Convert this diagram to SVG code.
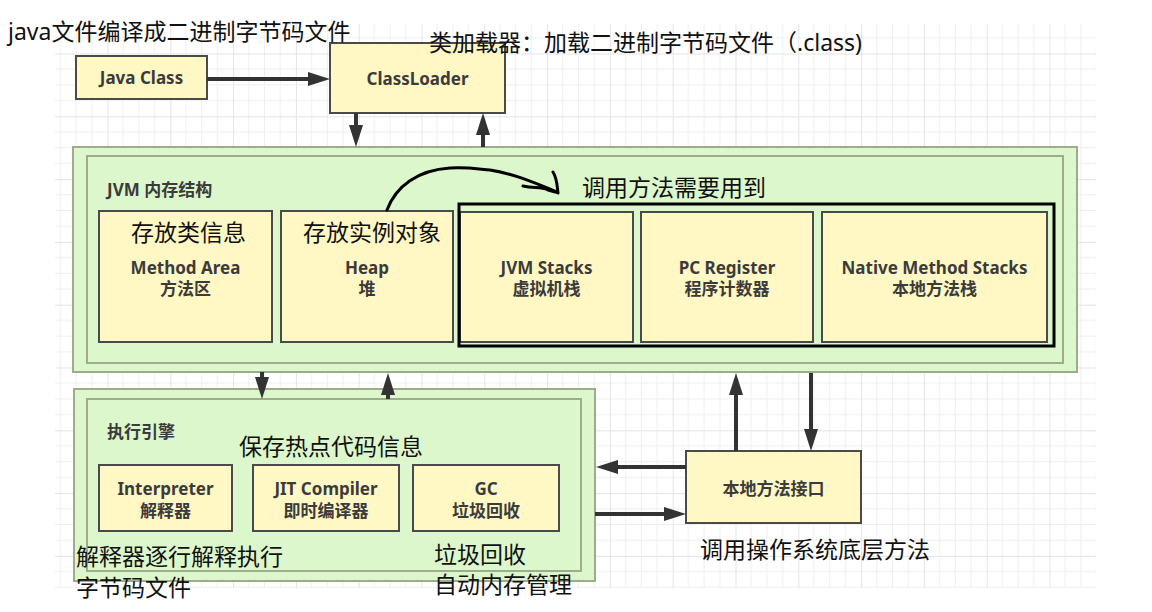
<svg xmlns="http://www.w3.org/2000/svg" width="1152" height="612" viewBox="0 0 1152 612">
  <defs>
    <pattern id="grid" patternUnits="userSpaceOnUse" x="44.7" y="53.5" width="62.8" height="62.8">
      <path d="M15.7,0V62.8M31.4,0V62.8M47.1,0V62.8M0,15.7H62.8M0,31.4H62.8M0,47.1H62.8" stroke="#efefef" stroke-width="1" fill="none"/>
      <path d="M0.5,0V62.8M0,0.5H62.8" stroke="#e4e4e4" stroke-width="1" fill="none"/>
    </pattern>
    <marker id="ah" markerUnits="userSpaceOnUse" markerWidth="22" markerHeight="14" viewBox="0 0 22 14" refX="6" refY="7" orient="auto">
      <path d="M0,0 L22,7 L0,14 z" fill="#333"/>
    </marker>
    <style>
      .box { fill: #fff7c4; stroke: #4a4a4a; stroke-width: 2; }
      .grn { fill: #dcf7cc; stroke: #9eac8e; stroke-width: 2; }
      .lbl { font-family: "Noto Sans", "Noto Sans CJK SC", sans-serif; font-weight: bold; font-size: 17px; fill: #3b3b3b; text-anchor: middle; }
      .sec { font-family: "Noto Sans", "Noto Sans CJK SC", sans-serif; font-weight: bold; font-size: 17px; fill: #3b3b3b; }
      .note { font-family: "Noto Sans", "Noto Sans CJK SC", sans-serif; font-size: 23px; fill: #111; }
      .arr { stroke: #333; stroke-width: 4; fill: none; marker-end: url(#ah); }
    </style>
  </defs>
  <rect width="1152" height="612" fill="#fff"/>
  <rect x="55" y="24" width="1041" height="564" fill="url(#grid)"/>

  <g id="java-class">
    <rect class="box" x="76" y="56" width="131" height="43"/>
    <text class="lbl" x="141.5" y="84">Java Class</text>
  </g>
  <g id="classloader">
    <rect class="box" x="330" y="43" width="175" height="70"/>
    <text class="lbl" x="417.5" y="85">ClassLoader</text>
  </g>

  <g id="jvm-memory">
    <rect class="grn" x="73" y="147" width="1004" height="225"/>
    <rect class="grn" x="87" y="156" width="976" height="207"/>
    <text class="sec" x="107" y="196">JVM 内存结构</text>
  </g>
  <g id="method-area">
    <rect class="box" x="99" y="211" width="173" height="131"/>
    <text class="lbl" x="185.5" y="274">Method Area</text>
    <text class="lbl" x="185.5" y="295">方法区</text>
  </g>
  <g id="heap">
    <rect class="box" x="281" y="211" width="172" height="131"/>
    <text class="lbl" x="367" y="274">Heap</text>
    <text class="lbl" x="367" y="295">堆</text>
  </g>
  <g id="jvm-stacks">
    <rect class="box" x="460" y="212" width="173" height="130"/>
    <text class="lbl" x="546.5" y="274">JVM Stacks</text>
    <text class="lbl" x="546.5" y="295">虚拟机栈</text>
  </g>
  <g id="pc-register">
    <rect class="box" x="641" y="212" width="172" height="130"/>
    <text class="lbl" x="727" y="274">PC Register</text>
    <text class="lbl" x="727" y="295">程序计数器</text>
  </g>
  <g id="native-stacks">
    <rect class="box" x="822" y="212" width="225" height="130"/>
    <text class="lbl" x="934.5" y="274">Native Method Stacks</text>
    <text class="lbl" x="934.5" y="295">本地方法栈</text>
  </g>
  <g id="thread-private">
    <rect x="459" y="204" width="595" height="142" fill="none" stroke="#000" stroke-width="3"/>
  </g>

  <g id="exec-engine">
    <rect class="grn" x="74" y="389" width="521" height="192"/>
    <rect class="grn" x="87" y="399" width="494" height="172"/>
    <text class="sec" x="107" y="438">执行引擎</text>
  </g>
  <g id="interpreter">
    <rect class="box" x="99" y="465" width="133" height="66"/>
    <text class="lbl" x="165.5" y="495">Interpreter</text>
    <text class="lbl" x="165.5" y="517">解释器</text>
  </g>
  <g id="jit">
    <rect class="box" x="253" y="465" width="146" height="66"/>
    <text class="lbl" x="326" y="495">JIT Compiler</text>
    <text class="lbl" x="326" y="517">即时编译器</text>
  </g>
  <g id="gc">
    <rect class="box" x="413" y="465" width="146" height="66"/>
    <text class="lbl" x="486" y="495">GC</text>
    <text class="lbl" x="486" y="517">垃圾回收</text>
  </g>
  <g id="native-interface">
    <rect class="box" x="686" y="451" width="175" height="72"/>
    <text class="lbl" x="773.5" y="495">本地方法接口</text>
  </g>

  <g id="connectors">
    <line class="arr" x1="207" y1="79" x2="314" y2="79"/>
    <line class="arr" x1="356" y1="113" x2="356" y2="131"/>
    <line class="arr" x1="483" y1="147" x2="483" y2="129"/>
    <line class="arr" x1="262" y1="372" x2="262" y2="383"/>
    <line class="arr" x1="388" y1="399" x2="388" y2="389"/>
    <line class="arr" x1="736" y1="451" x2="736" y2="389"/>
    <line class="arr" x1="811" y1="373" x2="811" y2="435"/>
    <line class="arr" x1="686" y1="467" x2="612" y2="467"/>
    <line class="arr" x1="595" y1="514" x2="670" y2="514"/>
    <path d="M387,210 C396,186 418,170 450,168 C468,167 478,169 490,170 C515,174 535,183 557,192 M523,186 C534,189 540,186 548,190 C552,191 556,192 558,193 C557,185 557,178 553,172" fill="none" stroke="#000" stroke-width="3" stroke-linecap="round" stroke-linejoin="round"/>
  </g>

  <g id="annotations">
    <text class="note" x="8" y="40">java文件编译成二进制字节码文件</text>
    <text class="note" x="429" y="51">类加载器：加载二进制字节码文件（.class)</text>
    <text class="note" x="582" y="196">调用方法需要用到</text>
    <text class="note" x="131" y="241">存放类信息</text>
    <text class="note" x="303" y="241">存放实例对象</text>
    <text class="note" x="239" y="455">保存热点代码信息</text>
    <text class="note" x="76" y="565">解释器逐行解释执行</text>
    <text class="note" x="76" y="596">字节码文件</text>
    <text class="note" x="434" y="563">垃圾回收</text>
    <text class="note" x="434" y="593">自动内存管理</text>
    <text class="note" x="700" y="558">调用操作系统底层方法</text>
  </g>
</svg>
